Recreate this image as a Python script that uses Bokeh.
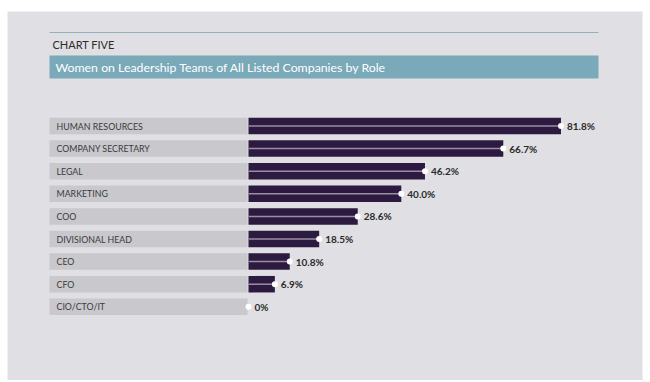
from bokeh.plotting import figure
from bokeh.models import Range1d, ColumnDataSource
from bokeh.core.properties import value
from bokeh.embed import file_html
from bokeh.resources import INLINE

# ---- data ----
roles = ["HUMAN RESOURCES", "COMPANY SECRETARY", "LEGAL", "MARKETING", "COO",
         "DIVISIONAL HEAD", "CEO", "CFO", "CIO/CTO/IT"]
shares = [81.8, 66.7, 46.2, 40.0, 28.6, 18.5, 10.8, 6.9, 0.0]
share_labels = ["81.8%", "66.7%", "46.2%", "40.0%", "28.6%", "18.5%", "10.8%", "6.9%", "0%"]
chart_kicker = "CHART FIVE"
chart_title = "Women on Leadership Teams of All Listed Companies by Role"

# ---- layout ----
W, H = 646, 380
PX_PER_PCT = 3.82          # horizontal scale: pixels per percentage point
ZERO_PX = 248              # frame x of the 0% baseline
def xp(px):                # frame pixel -> data x
    return (px - ZERO_PX) / PX_PER_PCT

PANEL = "#e0dfe4"
BAR = "#2c1a41"
BOX = "#c9c8cd"
TEAL = "#7aa9b9"

row0, step, bh = 125.5, 22.6, 16.5
ys = [row0 + step * i for i in range(len(roles))]

src = ColumnDataSource(dict(
    y=ys, role=roles, v=shares, lab=share_labels,
    lx=[v + 6 / PX_PER_PCT for v in shares],
))

p = figure(width=W, height=H, output_backend="svg", toolbar_location=None,
           x_range=Range1d(xp(0), xp(W)), y_range=Range1d(H, 0),
           min_border=0, min_border_left=0, min_border_right=0,
           min_border_top=0, min_border_bottom=0)
p.axis.visible = False
p.grid.visible = False
p.outline_line_color = None
p.background_fill_color = "white"
p.border_fill_color = "white"

# panel
p.quad(left=[xp(7)], right=[xp(642)], top=[11], bottom=[H], fill_color=PANEL, line_color=None)

# header
p.segment(x0=[xp(49)], x1=[xp(598)], y0=[32], y1=[32], line_color="#90b2bd", line_width=1)
p.text(x=[xp(52)], y=[44], text=[chart_kicker], text_font=value("Lato"),
       text_font_size="11px", text_color="#2b2b2b", text_baseline="middle")
p.quad(left=[xp(49)], right=[xp(598)], top=[55], bottom=[78], fill_color=TEAL, line_color=None)
p.text(x=[xp(55)], y=[66.5], text=[chart_title], text_font=value("Lato"),
       text_font_size="12.3px", text_color="white", text_baseline="middle")

# label boxes
p.hbar(y="y", left=xp(49), right=xp(247), height=bh, source=src, fill_color=BOX, line_color=None)
p.text(x=xp(56), y="y", text="role", source=src, text_font=value("Lato"),
       text_font_size="8.8px", text_color="#3a3a3a", text_baseline="middle")

# bars
p.hbar(y="y", left=0, right="v", height=bh, source=src, fill_color=BAR, line_color=None)
p.segment(x0=0, x1="v", y0="y", y1="y", source=src, line_color="#9a8ea5", line_width=1.5)
p.scatter(x="v", y="y", source=src, size=6, fill_color="white", line_color=None)
p.text(x="lx", y="y", text="lab", source=src, text_font=value("Lato"),
       text_font_size="10px", text_font_style="bold", text_color="#2a2a2a",
       text_baseline="middle")

open("out.html", "w").write(file_html(p, INLINE))
